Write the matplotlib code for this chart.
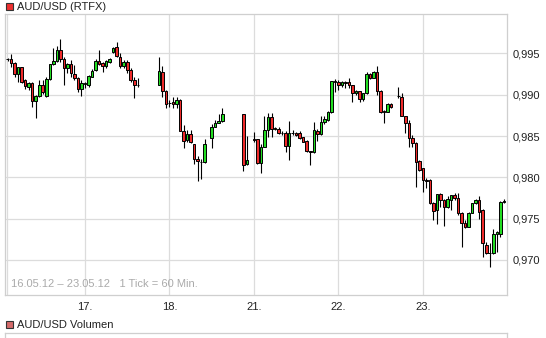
import numpy as np
import matplotlib.pyplot as plt
from matplotlib.patches import Rectangle

# -----------------------------
# DATA: hourly AUD/USD candles
# slot = hour index from 16.05 02:00, weekend hours removed
# -----------------------------
slots = (list(range(0, 38))                      # 16.05 - 17.05
         + list(range(43, 57)) + [58, 59, 60, 61]  # 18.05
         + [67, 68] + list(range(70, 110))       # 20.05 evening - 22.05
         + list(range(111, 142)))                # 22.05 late - 23.05

opens = [0.99430, 0.99429, 0.99387, 0.99247, 0.99330, 0.99178, 0.99097, 0.99145, 0.98927, 0.98984,
         0.99114, 0.98984, 0.99186, 0.99368, 0.99404, 0.99541, 0.99429, 0.99320, 0.99368, 0.99254,
         0.99199, 0.99065, 0.99126, 0.99114, 0.99218, 0.99299, 0.99404, 0.99380, 0.99347, 0.99400,
         0.99513, 0.99574, 0.99453, 0.99347, 0.99396, 0.99299, 0.99178, 0.99120,
         0.99123, 0.99273, 0.99046, 0.98905, 0.98913, 0.98884, 0.98941, 0.98564, 0.98447, 0.98528,
         0.98398, 0.98224, 0.98184, 0.98184, 0.98479, 0.98609, 0.98658, 0.98678,
         0.98766, 0.98161, 0.98465, 0.98460, 0.98170, 0.98370, 0.98573, 0.98726, 0.98588, 0.98580,
         0.98540, 0.98540, 0.98382, 0.98532, 0.98532, 0.98532, 0.98484, 0.98443, 0.98318, 0.98303,
         0.98563, 0.98527, 0.98673, 0.98697, 0.98786, 0.99163, 0.99155, 0.99114, 0.99150, 0.99150,
         0.99114, 0.99017, 0.99041, 0.98952, 0.99017, 0.99247, 0.99207, 0.99271, 0.99049, 0.98806,
         0.98790, 0.98883,
         0.98980, 0.98969, 0.98742, 0.98654, 0.98472, 0.98411, 0.98197, 0.98109, 0.97967, 0.97968,
         0.97690, 0.97600, 0.97798, 0.97725, 0.97637, 0.97725, 0.97786, 0.97746, 0.97572, 0.97451,
         0.97402, 0.97572, 0.97685, 0.97725, 0.97604, 0.97185, 0.97085, 0.97085, 0.97315, 0.97318,
         0.97705]

highs = [0.99450, 0.99493, 0.99395, 0.99340, 0.99340, 0.99186, 0.99157, 0.99150, 0.99000, 0.99178,
         0.99180, 0.99218, 0.99370, 0.99570, 0.99590, 0.99671, 0.99460, 0.99380, 0.99420, 0.99356,
         0.99218, 0.99178, 0.99157, 0.99238, 0.99315, 0.99436, 0.99541, 0.99400, 0.99420, 0.99440,
         0.99581, 0.99634, 0.99500, 0.99420, 0.99420, 0.99320, 0.99218, 0.99199,
         0.99460, 0.99346, 0.99063, 0.98933, 0.98974, 0.98974, 0.98945, 0.98629, 0.98569, 0.98569,
         0.98400, 0.98253, 0.98224, 0.98467, 0.98650, 0.98690, 0.98771, 0.98844,
         0.98766, 0.98500, 0.98552, 0.98460, 0.98403, 0.98742, 0.98782, 0.98774, 0.98613, 0.98605,
         0.98564, 0.98560, 0.98685, 0.98573, 0.98550, 0.98556, 0.98490, 0.98451, 0.98322, 0.98673,
         0.98581, 0.98737, 0.98741, 0.98806, 0.99165, 0.99194, 0.99178, 0.99166, 0.99166, 0.99199,
         0.99114, 0.99057, 0.99049, 0.99025, 0.99271, 0.99267, 0.99291, 0.99348, 0.99057, 0.98814,
         0.98903, 0.98895,
         0.99097, 0.99024, 0.98742, 0.98694, 0.98512, 0.98431, 0.98206, 0.98117, 0.97990, 0.97980,
         0.97700, 0.97800, 0.97814, 0.97734, 0.97774, 0.97789, 0.97806, 0.97806, 0.97584, 0.97483,
         0.97584, 0.97693, 0.97734, 0.97774, 0.97612, 0.97220, 0.97201, 0.97375, 0.97347, 0.97717,
         0.97734]

lows = [0.99410, 0.99330, 0.99218, 0.99157, 0.99138, 0.99065, 0.99057, 0.98855, 0.98714, 0.98976,
        0.99010, 0.98976, 0.99180, 0.99360, 0.99400, 0.99400, 0.99117, 0.99260, 0.99220, 0.99178,
        0.99036, 0.98988, 0.99077, 0.99097, 0.99210, 0.99290, 0.99360, 0.99278, 0.99320, 0.99380,
        0.99500, 0.99460, 0.99320, 0.99320, 0.99260, 0.99157, 0.98956, 0.99097,
        0.99120, 0.98974, 0.98844, 0.98852, 0.98840, 0.98844, 0.98560, 0.98358, 0.98427, 0.98415,
        0.98163, 0.97961, 0.97981, 0.98176, 0.98358, 0.98605, 0.98655, 0.98670,
        0.98080, 0.98149, 0.98431, 0.98157, 0.98048, 0.98365, 0.98484, 0.98484, 0.98573, 0.98528,
        0.98512, 0.98310, 0.98209, 0.98508, 0.98500, 0.98460, 0.98425, 0.98310, 0.98149, 0.98299,
        0.98434, 0.98507, 0.98644, 0.98685, 0.98782, 0.99029, 0.99057, 0.99097, 0.99085, 0.99077,
        0.98908, 0.98996, 0.98908, 0.98928, 0.99013, 0.99195, 0.99199, 0.98996, 0.98774, 0.98661,
        0.98786, 0.98843,
        0.98956, 0.98741, 0.98532, 0.98363, 0.98371, 0.97886, 0.98080, 0.97826, 0.97870, 0.97680,
        0.97480, 0.97435, 0.97644, 0.97414, 0.97625, 0.97604, 0.97725, 0.97543, 0.97160, 0.97386,
        0.97398, 0.97570, 0.97677, 0.97499, 0.97032, 0.97073, 0.96911, 0.97073, 0.97093, 0.97278,
        0.97685]

closes = [0.99430, 0.99380, 0.99247, 0.99332, 0.99157, 0.99105, 0.99145, 0.98924, 0.98984, 0.99117,
          0.99029, 0.99186, 0.99368, 0.99404, 0.99541, 0.99429, 0.99320, 0.99368, 0.99260, 0.99199,
          0.99065, 0.99138, 0.99145, 0.99226, 0.99290, 0.99404, 0.99372, 0.99347, 0.99404, 0.99432,
          0.99569, 0.99469, 0.99347, 0.99396, 0.99299, 0.99178, 0.99121, 0.99120,
          0.99289, 0.99046, 0.98884, 0.98900, 0.98884, 0.98941, 0.98564, 0.98443, 0.98520, 0.98427,
          0.98224, 0.98196, 0.98180, 0.98407, 0.98609, 0.98658, 0.98678, 0.98763,
          0.98149, 0.98209, 0.98455, 0.98170, 0.98370, 0.98573, 0.98726, 0.98588, 0.98592, 0.98532,
          0.98540, 0.98382, 0.98540, 0.98532, 0.98516, 0.98472, 0.98431, 0.98318, 0.98310, 0.98569,
          0.98527, 0.98673, 0.98705, 0.98786, 0.99163, 0.99150, 0.99123, 0.99150, 0.99146, 0.99114,
          0.99017, 0.99041, 0.98952, 0.99017, 0.99247, 0.99199, 0.99271, 0.99049, 0.98790, 0.98790,
          0.98883, 0.98847,
          0.98988, 0.98741, 0.98653, 0.98472, 0.98411, 0.98182, 0.98088, 0.97967, 0.97960, 0.97690,
          0.97588, 0.97794, 0.97725, 0.97644, 0.97734, 0.97782, 0.97746, 0.97564, 0.97443, 0.97402,
          0.97572, 0.97685, 0.97725, 0.97584, 0.97201, 0.97085, 0.97081, 0.97315, 0.97339, 0.97705,
          0.97709]

day_ticks = [24, 48, 72, 96, 120]
day_labels = ["17.", "18.", "21.", "22.", "23."]
price_ticks = [0.970, 0.975, 0.980, 0.985, 0.990, 0.995]

# -----------------------------
# FIGURE
# -----------------------------
W, H = 546, 338
plt.rcParams["font.family"] = ["Liberation Sans", "DejaVu Sans"]
fig = plt.figure(figsize=(W / 100, H / 100), dpi=100)

grid_col = "#dcdcdc"
frame_col = "#cfcfcf"
up_col = "#22dd22"
down_col = "#ee2a2a"

ax = fig.add_axes([5 / W, 1 - 295 / H, 502 / W, 281 / H])

x = np.array(slots) + 2
o = np.array(opens)
h = np.array(highs)
l = np.array(lows)
c = np.array(closes)

ax.vlines(x, l, h, color="black", linewidth=0.8, zorder=3)
colors = np.where(c >= o, up_col, down_col)
ax.bar(x, np.abs(c - o), bottom=np.minimum(o, c), width=0.72, color=colors,
       edgecolor="black", linewidth=0.7, zorder=4)

ax.set_xlim(1.27, 143.9)
ax.set_ylim(0.96576, 0.99977)

ax.set_xticks(day_ticks)
ax.set_xticklabels(day_labels)
ax.set_yticks(price_ticks)
ax.set_yticklabels([("%.3f" % p).replace(".", ",") for p in price_ticks])
ax.yaxis.tick_right()
ax.tick_params(axis="both", length=0, labelsize=8, colors="#222222")
ax.tick_params(axis="y", pad=4)
ax.tick_params(axis="x", pad=5)
ax.grid(True, color=grid_col, linewidth=0.9, zorder=0)
ax.set_axisbelow(True)
ax.axvline(1.85, color=grid_col, linewidth=0.9, zorder=0)
for s in ax.spines.values():
    s.set_color(frame_col)
    s.set_linewidth(0.9)

ax.text(0.011, 0.022, "16.05.12 \u2013 23.05.12   1 Tick = 60 Min.", transform=ax.transAxes,
        fontsize=8, color="#aaaaaa", ha="left", va="bottom")

# titles with coloured squares
fig.patches.append(Rectangle((6 / W, 1 - 10 / H), 7 / W, 7 / H, transform=fig.transFigure,
                             facecolor="#ee3030", edgecolor="#333333", linewidth=0.8))
fig.text(17 / W, 1 - 6.5 / H, "AUD/USD (RTFX)", fontsize=8, color="#222222", va="center")

fig.patches.append(Rectangle((6 / W, 1 - 328 / H), 7 / W, 7 / H, transform=fig.transFigure,
                             facecolor="#d46a6a", edgecolor="#333333", linewidth=0.8))
fig.text(17 / W, 1 - 324.5 / H, "AUD/USD Volumen", fontsize=8, color="#222222", va="center")

# empty volume panel, cut by the bottom edge
vax = fig.add_axes([5 / W, -0.05, 502 / W, 0.05 + 5 / H])
vax.set_xticks([])
vax.set_yticks([])
for s in vax.spines.values():
    s.set_color(frame_col)
    s.set_linewidth(0.9)

fig.savefig("out.png", dpi=100)
